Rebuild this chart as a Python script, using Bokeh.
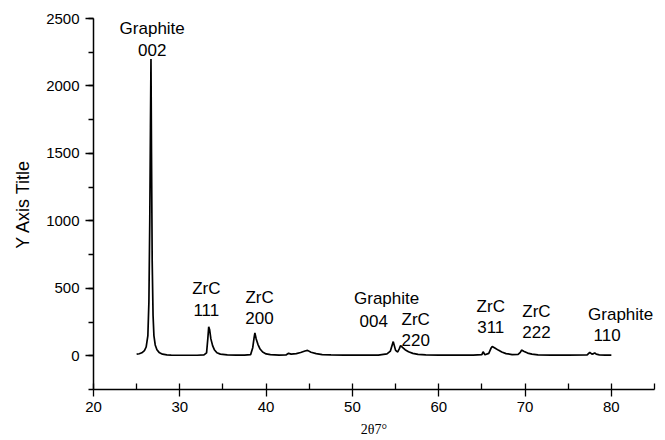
from bokeh.plotting import figure
from bokeh.models import Range1d, ColumnDataSource, SingleIntervalTicker
from bokeh.core.properties import value
from bokeh.embed import file_html
from bokeh.resources import INLINE

# XRD pattern (2theta in degrees, intensity)
two_theta = [25.0, 25.3, 25.6, 25.9, 26.1, 26.3, 26.42, 26.52, 26.6, 26.66, 26.72, 26.8, 26.9, 27.0, 27.15,
             27.35, 27.6, 28.0, 28.5, 29.0, 30.0, 31.0, 32.0, 32.8, 33.1, 33.25, 33.35, 33.45, 33.6,
             33.8, 34.0, 34.3, 34.7, 35.5, 36.5, 37.5, 38.2, 38.45, 38.6, 38.7, 38.85, 39.05, 39.3,
             39.6, 40.0, 40.5, 41.5, 42.3, 42.6, 42.9, 43.5, 44.0, 44.5, 44.8, 45.2, 45.8, 46.5,
             47.5, 49.0, 51.0, 53.0, 54.0, 54.4, 54.73, 55.0, 55.25, 55.45, 55.58, 55.8, 56.1,
             56.5, 57.0, 57.6, 58.5, 60.0, 62.0, 64.0, 65.0, 65.14, 65.35, 65.8, 66.05, 66.2, 66.5,
             66.9, 67.3, 67.8, 68.5, 69.2, 69.45, 69.6, 69.9, 70.3, 70.8, 71.5, 73.0, 75.0, 77.2,
             77.5, 77.75, 77.95, 78.07, 78.25, 78.6, 79.3, 80.0]
intensity = [12, 15, 22, 38, 65, 150, 400, 1000, 1700, 2200, 1500, 700, 300, 150, 80,
             45, 25, 12, 7, 5, 4, 4, 4, 6, 22, 130, 215, 195, 125,
             75, 45, 22, 12, 6, 5, 5, 8, 60, 130, 170, 125, 85, 50,
             28, 14, 8, 5, 6, 18, 12, 16, 24, 35, 40, 26, 16, 9,
             6, 5, 5, 5, 14, 35, 105, 40, 28, 55, 76, 62, 45,
             30, 18, 10, 6, 5, 5, 5, 8, 30, 8, 18, 55, 69, 58,
             42, 28, 16, 9, 10, 25, 42, 32, 20, 12, 6, 5, 5, 6,
             25, 12, 16, 22, 12, 7, 5, 5]

# peak annotations (two lines each)
peak_line1 = ["Graphite", "ZrC", "ZrC", "Graphite", "ZrC", "ZrC", "ZrC", "Graphite"]
peak_line2 = ["002", "111", "200", "004", "220", "311", "222", "110"]
line1_x = [26.8, 33.07, 39.24, 53.96, 57.33, 66.03, 71.32, 81.08]
line1_y = [2425, 495, 433, 421, 267, 366, 329, 309]
line2_x = [26.8, 33.07, 39.24, 52.47, 57.33, 66.03, 71.32, 79.5]
line2_y = [2264, 341, 277, 260, 119, 210, 173, 154]

x_title = "2θ7°"
y_title = "Y Axis Title"

p = figure(frame_width=561, frame_height=371, output_backend="svg", toolbar_location=None,
           x_range=Range1d(20, 85), y_range=Range1d(-250, 2500),
           min_border_left=93, min_border_top=18, min_border_right=3, min_border_bottom=43)
p.outline_line_color = None
p.xgrid.visible = False
p.ygrid.visible = False
p.background_fill_color = "white"
p.border_fill_color = "white"

p.line(two_theta, intensity, line_color="black", line_width=1.7)

src1 = ColumnDataSource(dict(x=line1_x, y=line1_y, t=peak_line1))
src2 = ColumnDataSource(dict(x=line2_x, y=line2_y, t=peak_line2))
for s in (src1, src2):
    p.text(x="x", y="y", text="t", source=s, text_align="center", text_baseline="alphabetic",
           text_font=value("Liberation Sans"), text_font_size="17px", text_color="black")

p.xaxis.ticker = SingleIntervalTicker(interval=10, num_minor_ticks=2)
p.yaxis.ticker = SingleIntervalTicker(interval=500, num_minor_ticks=2)

for ax in (p.xaxis[0], p.yaxis[0]):
    ax.axis_line_color = "black"
    ax.axis_line_width = 1.5
    ax.major_tick_line_color = "black"
    ax.major_tick_line_width = 1.3
    ax.minor_tick_line_color = "black"
    ax.minor_tick_line_width = 1.3
    ax.major_label_text_font = "Liberation Sans"
    ax.major_label_text_font_size = "15px"
    ax.major_label_text_color = "black"
    ax.axis_label_text_font_style = "normal"
    ax.axis_label_text_color = "black"

xa = p.xaxis[0]
xa.major_tick_out = 7
xa.major_tick_in = 0
xa.minor_tick_out = 0
xa.minor_tick_in = 6
xa.major_label_standoff = 5
xa.axis_label = x_title
xa.axis_label_text_font = "Liberation Serif"
xa.axis_label_text_font_size = "14px"
xa.axis_label_standoff = 7

ya = p.yaxis[0]
ya.major_tick_out = 8
ya.major_tick_in = 0
ya.minor_tick_out = 5
ya.minor_tick_in = 0
ya.major_label_standoff = 6
ya.axis_label = y_title
ya.axis_label_text_font = "Liberation Sans"
ya.axis_label_text_font_size = "18px"
ya.axis_label_standoff = 10

open("out.html", "w").write(file_html(p, INLINE))
